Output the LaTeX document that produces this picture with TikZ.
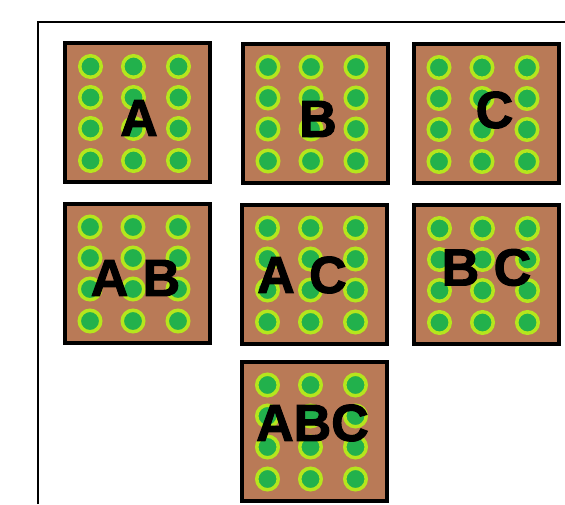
\documentclass[tikz,border=0pt]{standalone}
\usepackage{fontspec}
\newfontfamily\tagfont{Liberation Sans}[FakeBold=2]
\usepackage{tikz}
\definecolor{boardbrown}{HTML}{B97A57}
\definecolor{holegreen}{HTML}{22B14C}
\definecolor{ringlime}{HTML}{B5E61D}
\tikzset{
  every picture/.style={line join=miter},
  frame/.style={line width=1.2pt, black},
  board/.style={draw=black, fill=boardbrown, line width=4pt, minimum width=145pt, minimum height=139pt, inner sep=0pt},
  hole/.style={circle, draw=ringlime, fill=holegreen, line width=3.5pt, minimum size=21.5pt, inner sep=0pt},
  tag/.style={inner sep=0pt, font=\tagfont\bfseries\fontsize{52}{52}\selectfont},
}

\begin{document}
\begin{tikzpicture}[x=1pt,y=-1pt]
\useasboundingbox (0,0) rectangle (565,504);
\draw[frame] (38,504) |- (565,22);
% boards
\node[board] (bA) at (137.5,112.5) {};
\node[board] (bB) at (315,113) {};
\node[board] (bC) at (486,113.5) {};
\node[board] (bAB) at (137,273) {};
\node[board] (bAC) at (314.5,274) {};
\node[board] (bBC) at (486.5,274.5) {};
\node[board] (bABC) at (314.5,431) {};
% holes
\foreach \b in {bA,bB,bC,bAB,bAC,bBC,bABC}
  \foreach \dx [count=\i] in {-47,-4,41}
    \foreach \dy [count=\j] in {-46,-15,16,48}
      \node[hole] (\b-h\i\j) at ([shift={(\dx,\dy)}]\b.center) {};
% labels
\node[tag] (tA) at ([shift={(1.5,5.5)}]bA.center) {A};
\node[tag] (tB) at ([shift={(3,6)}]bB.center) {B};
\node[tag] (tC) at ([shift={(8.5,-3.5)}]bC.center) {C};
\node[tag] (tAB) at ([shift={(-1.5,5)}]bAB.center) {A B};
\node[tag] (tAC) at ([shift={(-12.5,1)}]bAC.center) {A C};
\node[tag] (tBC) at ([shift={(0,-7)}]bBC.center) {B C};
\node[tag] (tABC) at ([shift={(-2,-8)}]bABC.center) {ABC};
\end{tikzpicture}
\end{document}
